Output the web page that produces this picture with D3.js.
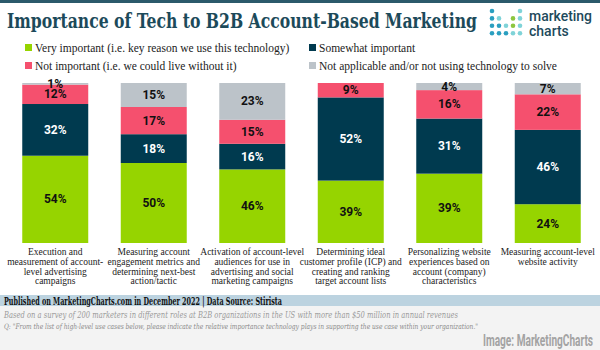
<!doctype html>
<html>
<head>
<script src="https://cdn.jsdelivr.net/npm/d3@7"></script>
<style>
  body { margin: 0; background: #fff; }
  svg { display: block; }
  .serif { font-family: "DejaVu Serif", serif; }
  .lserif { font-family: "Liberation Serif", serif; }
</style>
</head>
<body>
<svg width="600" height="350"></svg>
<script>
// data
var categories = [
  ["Execution and", "measurement of account-", "level advertising", "campaigns"],
  ["Measuring account", "engagement metrics and", "determining next-best", "action/tactic"],
  ["Activation of account-level", "audiences for use in", "advertising and social", "marketing campaigns"],
  ["Determining ideal", "customer profile (ICP) and", "creating and ranking", "target account lists"],
  ["Personalizing website", "experiences based on", "account (company)", "characteristics"],
  ["Measuring account-level", "website activity"]
];
var veryImportant = [54, 50, 46, 39, 39, 24];
var somewhatImportant = [32, 18, 16, 52, 31, 46];
var notImportant = [12, 17, 15, 9, 16, 22];
var notApplicable = [1, 15, 23, 0, 4, 7];

var seriesKeys = ["very", "somewhat", "not", "na"];
var seriesNames = [
  "Very important (i.e. key reason we use this technology)",
  "Somewhat important",
  "Not important (i.e. we could live without it)",
  "Not applicable and/or not using technology to solve"
];
var colors = { very: "#96d400", somewhat: "#003a4f", not: "#f5506e", na: "#bcc3c9" };

var rows = categories.map(function (c, i) {
  return { i: i, very: veryImportant[i], somewhat: somewhatImportant[i], not: notImportant[i], na: notApplicable[i] };
});

var svg = d3.select("svg");

// top rule
svg.append("rect").attr("x", 0).attr("y", 0).attr("width", 600).attr("height", 3).attr("fill", "#2b5a6b");

// title
svg.append("text").attr("class", "serif")
  .attr("x", 7).attr("y", 28)
  .attr("font-size", 20).attr("font-weight", "bold").attr("fill", "#1c4a5a")
  .attr("textLength", 470).attr("lengthAdjust", "spacingAndGlyphs")
  .text("Importance of Tech to B2B Account-Based Marketing");

// logo
var dots = [
  [0, 0, "#2a9fc0"], [4, 0, "#7fd3d8"],
  [0, 1, "#2a9fc0"], [1, 1, "#7fd3d8"], [3, 1, "#8cc63f"], [4, 1, "#7fd3d8"],
  [0, 2, "#2a9fc0"], [1, 2, "#2a9fc0"], [2, 2, "#7fd3d8"], [3, 2, "#8cc63f"], [4, 2, "#7fd3d8"],
  [0, 3, "#2a9fc0"], [1, 3, "#2a9fc0"], [2, 3, "#2a9fc0"], [3, 3, "#7fd3d8"], [4, 3, "#7fd3d8"]
];
svg.append("g").selectAll("circle").data(dots).enter().append("circle")
  .attr("cx", function (d) { return 492 + d[0] * 7; })
  .attr("cy", function (d) { return 11 + d[1] * 7.4; })
  .attr("r", 2.3)
  .attr("fill", function (d) { return d[2]; });
svg.append("text").attr("x", 529).attr("y", 21).attr("font-family", "Roboto, sans-serif")
  .attr("font-weight", 500).attr("font-size", 14).attr("fill", "#1d4a5c")
  .attr("textLength", 63).attr("lengthAdjust", "spacingAndGlyphs").text("marketing");
svg.append("text").attr("x", 529).attr("y", 36).attr("font-family", "Roboto, sans-serif")
  .attr("font-weight", 500).attr("font-size", 14).attr("fill", "#1d4a5c").text("charts");

// legend
var legendPos = [[25, 48], [309, 48], [25, 66], [309, 66]];
var legend = svg.append("g").selectAll("g").data(seriesKeys).enter().append("g")
  .attr("transform", function (d, i) { return "translate(" + legendPos[i][0] + "," + legendPos[i][1] + ")"; });
legend.append("rect").attr("x", 0).attr("y", -4).attr("width", 7).attr("height", 7)
  .attr("fill", function (d) { return colors[d]; });
legend.append("text").attr("class", "lserif").attr("x", 10).attr("y", 3.5)
  .attr("font-size", 11.5).attr("fill", "#222")
  .text(function (d, i) { return seriesNames[i]; });

// chart
var x = d3.scaleBand().domain(d3.range(categories.length)).range([6, 597])
  .paddingInner(0.33).paddingOuter(0.165);
var y = d3.scaleLinear().domain([0, 1]).range([243, 83]);

var stack = d3.stack().keys(seriesKeys).offset(d3.stackOffsetExpand);
var layers = stack(rows);

var layerG = svg.append("g").selectAll("g").data(layers).enter().append("g")
  .attr("fill", function (d) { return colors[d.key]; });
layerG.selectAll("rect").data(function (d) { return d; }).enter().append("rect")
  .attr("x", function (d) { return x(d.data.i); })
  .attr("width", x.bandwidth())
  .attr("y", function (d) { return y(d[1]); })
  .attr("height", function (d) { return y(d[0]) - y(d[1]); });

var labelG = svg.append("g").selectAll("g").data(layers).enter().append("g");
labelG.selectAll("text")
  .data(function (layer) { return layer.map(function (d) { return { d: d, key: layer.key }; }); })
  .enter().filter(function (o) { return o.d.data[o.key] > 0; })
  .append("text")
  .attr("x", function (o) { return x(o.d.data.i) + x.bandwidth() / 2; })
  .attr("y", function (o) { return (y(o.d[0]) + y(o.d[1])) / 2 + 4; })
  .attr("text-anchor", "middle")
  .attr("font-family", "Roboto, sans-serif").attr("font-weight", "bold").attr("font-size", 12)
  .attr("fill", function (o) { return o.key === "somewhat" ? "#fff" : "#111"; })
  .text(function (o) { return o.d.data[o.key] + "%"; });

// category labels
var catG = svg.append("g").selectAll("text").data(categories).enter().append("text")
  .attr("class", "lserif").attr("font-size", 9.5).attr("fill", "#222").attr("text-anchor", "middle")
  .attr("x", function (d, i) { return x(i) + x.bandwidth() / 2; });
catG.selectAll("tspan").data(function (d) { return d; }).enter().append("tspan")
  .attr("x", function () { return d3.select(this.parentNode).attr("x"); })
  .attr("y", function (d, j) { return 255 + j * 9.8; })
  .text(function (d) { return d; });

// footer
svg.append("rect").attr("x", 0).attr("y", 295).attr("width", 600).attr("height", 11).attr("fill", "#bcd3e0");
svg.append("rect").attr("x", 0).attr("y", 306).attr("width", 600).attr("height", 44).attr("fill", "#f3f3f3");
svg.append("text").attr("class", "serif").attr("x", 4).attr("y", 304.5)
  .attr("font-size", 10.5).attr("font-weight", "bold").attr("fill", "#111")
  .attr("textLength", 278).attr("lengthAdjust", "spacingAndGlyphs")
  .text("Published on MarketingCharts.com in December 2022 | Data Source: Stirista");
svg.append("text").attr("class", "serif").attr("x", 4).attr("y", 318)
  .attr("font-size", 9.5).attr("font-style", "italic").attr("fill", "#9a9a9a")
  .attr("textLength", 454).attr("lengthAdjust", "spacingAndGlyphs")
  .text("Based on a survey of 200 marketers in different roles at B2B organizations in the US with more than $50 million in annual revenues");
svg.append("text").attr("class", "serif").attr("x", 4).attr("y", 328.5)
  .attr("font-size", 7.5).attr("font-style", "italic").attr("fill", "#8a8a8a")
  .attr("textLength", 474).attr("lengthAdjust", "spacingAndGlyphs")
  .text("Q: \"From the list of high-level use cases below, please indicate the relative importance technology plays in supporting the use case within your organization.\"");
svg.append("text").attr("x", 593).attr("y", 346).attr("text-anchor", "end")
  .attr("font-family", "Roboto, sans-serif").attr("font-weight", "bold").attr("font-size", 16)
  .attr("fill", "#a3a3a3")
  .attr("textLength", 110).attr("lengthAdjust", "spacingAndGlyphs")
  .text("Image: MarketingCharts");
</script>
</body>
</html>
